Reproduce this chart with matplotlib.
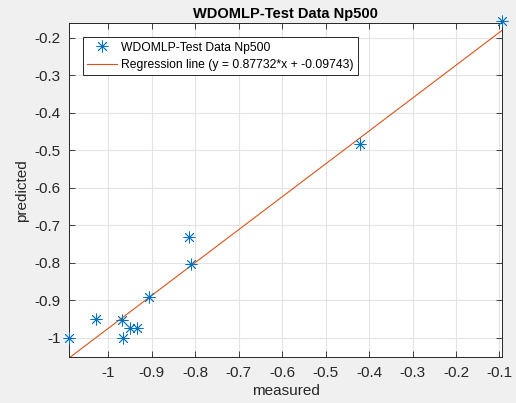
import numpy as np
import matplotlib
matplotlib.use('Agg')
from matplotlib import pyplot as plt
from matplotlib.ticker import FormatStrFormatter

plt.rcParams['font.family'] = ['Liberation Sans', 'DejaVu Sans']

# test data
measured = [-1.090, -1.029, -0.969, -0.965, -0.949, -0.935, -0.907,
            -0.814, -0.809, -0.421, -0.094]
predicted = [-1.000, -0.950, -0.953, -1.000, -0.973, -0.973, -0.891,
             -0.731, -0.804, -0.484, -0.155]
slope = 0.87732
intercept = -0.09743
x_ticks = [-1, -0.9, -0.8, -0.7, -0.6, -0.5, -0.4, -0.3, -0.2, -0.1]
y_ticks = [-1, -0.9, -0.8, -0.7, -0.6, -0.5, -0.4, -0.3, -0.2]

blue = (0, 0.447, 0.741)
orange = (0.851, 0.325, 0.098)

fig = plt.figure(figsize=(5.16, 4.03), dpi=100, facecolor='#f0f0f0')
ax = fig.add_axes([0.134, 0.1134, 0.839, 0.8288])

x_line = np.array([min(measured), max(measured)])
ax.plot(measured, predicted, linestyle='none', marker=(8, 2, 0), markersize=8.5,
        markeredgewidth=0.6, color=blue, clip_on=False, zorder=3,
        label='WDOMLP-Test Data Np500')
ax.plot(x_line, slope * x_line + intercept, color=orange, linewidth=0.8,
        label='Regression line (y = 0.87732*x + -0.09743)')

ax.set_xlim(min(measured), max(measured))
ax.set_ylim(-1.052, -0.161)
ax.set_xticks(x_ticks)
ax.set_yticks(y_ticks)
ax.xaxis.set_major_formatter(FormatStrFormatter('%g'))
ax.yaxis.set_major_formatter(FormatStrFormatter('%g'))
ax.tick_params(direction='in', top=True, right=True, labelsize=11,
               length=4, width=0.6, colors='#262626', pad=6)
ax.grid(True, color='#e3e3e3', linewidth=0.8)
ax.set_axisbelow(True)
for s in ax.spines.values():
    s.set_color('#262626')
    s.set_linewidth(0.7)

ax.set_xlabel('measured', fontsize=11, color='#262626', labelpad=3)
ax.set_ylabel('predicted', fontsize=11, color='#262626', labelpad=4)
ax.set_title('WDOMLP-Test Data Np500', fontsize=10.5, fontweight='bold', pad=4)

leg = ax.legend(loc='upper left', bbox_to_anchor=(0.032, 0.958), fontsize=8.7,
                fancybox=False, edgecolor='#262626', framealpha=1,
                borderpad=0.35, handlelength=2.5, handletextpad=0.3,
                labelspacing=0.45, borderaxespad=0)
leg.get_frame().set_linewidth(0.7)

plt.savefig('out.png', dpi=100, facecolor=fig.get_facecolor())
